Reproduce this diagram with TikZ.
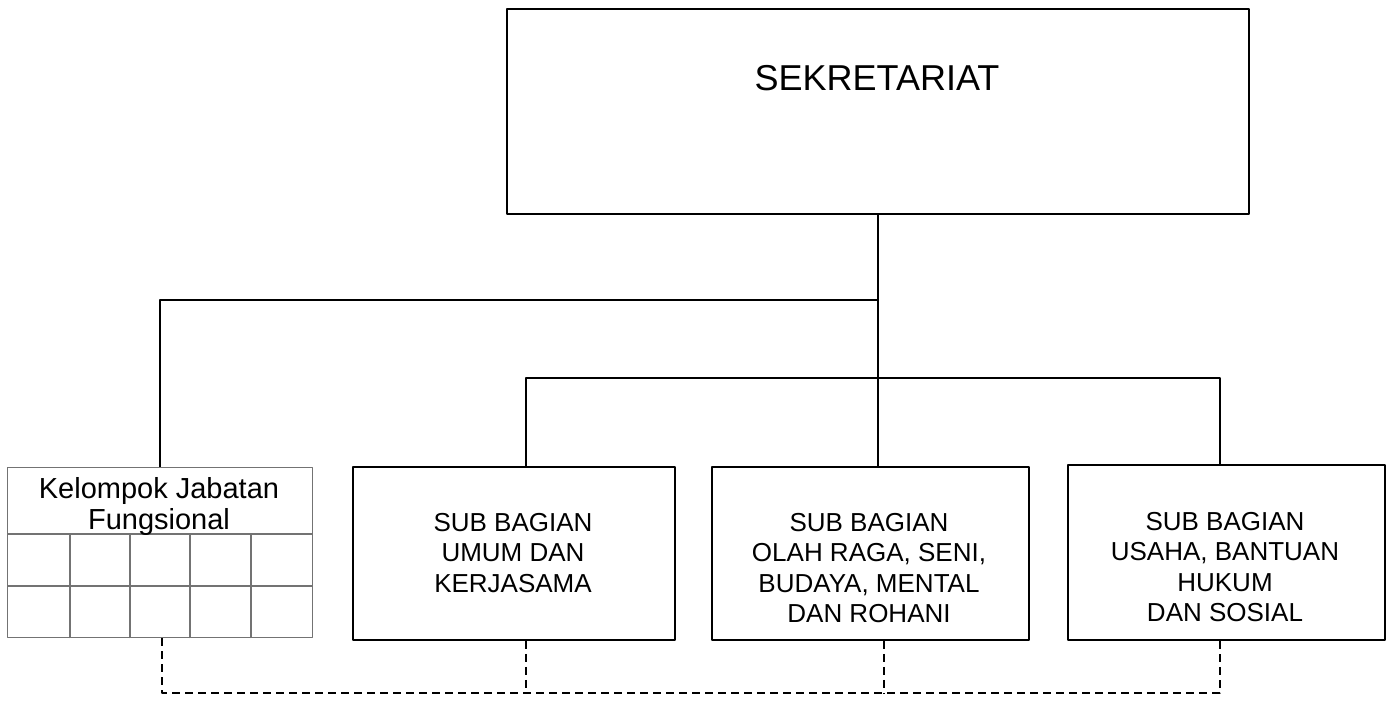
\documentclass[tikz,border=0pt]{standalone}
\usepackage{fontspec}
\setmainfont{Liberation Sans}
\begin{document}
\begin{tikzpicture}[x=1pt,y=-1pt,line join=round,
  kotak/.style={draw,line width=1.8pt,inner sep=0pt,anchor=north west},
  isi/.style={align=center,inner sep=0pt,anchor=north,font=\fontsize{26}{30.5}\selectfont},
  garis/.style={line width=1.6pt},
  putus/.style={line width=1.5pt,dash pattern=on 8pt off 5pt},
  abu/.style={draw=black!55,line width=1.4pt}]
  \useasboundingbox (0,0) rectangle (1392,724);
  % kepala
  \node[kotak,minimum width=742pt,minimum height=205pt] (sek) at (506,8) {};
  \node[font=\fontsize{36}{40}\selectfont,anchor=base] (sekteks) at (877,90) {SEKRETARIAT};
  % kelompok jabatan fungsional
  \node[abu,inner sep=0pt,anchor=north west,minimum width=305pt,minimum height=170pt] (kjf) at (7,467) {};
  \foreach \y in {534,586} \draw[abu] (kjf.west |- 0,\y) -- (kjf.east |- 0,\y);
  \foreach \x in {70,130,190,251} \draw[abu] (kjf.south -| \x,0) -- (\x,534);
  \node[align=center,inner sep=0pt,anchor=north,font=\fontsize{29}{31}\selectfont] (kjfteks) at (159,477) {Kelompok Jabatan\\Fungsional};
  % sub bagian
  \node[kotak,minimum width=322pt,minimum height=173pt] (sub2) at (352,466) {};
  \node[isi] (sub2teks) at (513,513) {SUB BAGIAN\\UMUM DAN\\KERJASAMA};
  \node[kotak,minimum width=317pt,minimum height=173pt] (sub3) at (711,466) {};
  \node[isi] (sub3teks) at (869,513) {SUB BAGIAN\\OLAH RAGA, SENI,\\BUDAYA, MENTAL\\DAN ROHANI};
  \node[kotak,minimum width=317pt,minimum height=175pt] (sub4) at (1067,464) {};
  \node[isi] (sub4teks) at (1225,512) {SUB BAGIAN\\USAHA, BANTUAN\\HUKUM\\DAN SOSIAL};
  % garis komando
  \coordinate (a2) at (526,378);
  \coordinate (a4) at (1220,378);
  \draw[garis] (sek.south) -- (sek.south |- sub3.north);
  \draw[garis] (kjf.north) |- (sek.south |- 0,300);
  \draw[garis] (a2 |- sub2.north) -- (a2) -- (a4) -- (a4 |- sub4.north);
  % garis koordinasi
  \coordinate (b1) at (162,693);
  \coordinate (b2) at (526,693);
  \coordinate (b3) at (884,693);
  \coordinate (b4) at (1220,693);
  \draw[putus] (kjf.south -| b1) -- (b1) -- (b4) -- (sub4.south -| b4);
  \draw[putus] (sub2.south -| b2) -- (b2);
  \draw[putus] (sub3.south -| b3) -- (b3);
\end{tikzpicture}
\end{document}
